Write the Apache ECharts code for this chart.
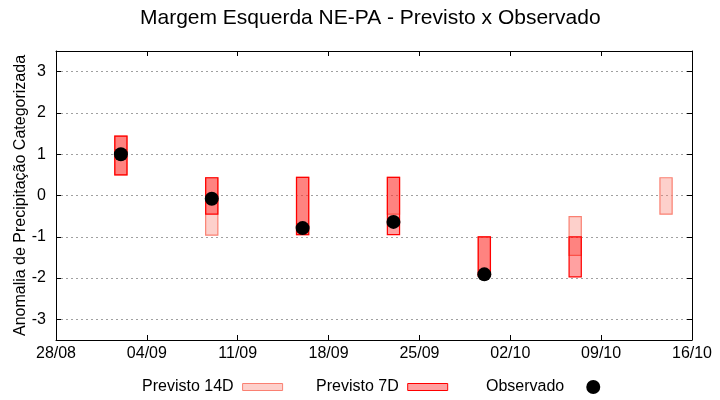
<!DOCTYPE html>
<html>
<head>
<meta charset="utf-8">
<script src="https://cdn.jsdelivr.net/npm/echarts@6/dist/echarts.min.js"></script>
<style>html,body{margin:0;padding:0;background:#fff}#c{width:720px;height:400px}</style>
</head>
<body>
<div id="c"></div>
<script>
// ---- data ----
const dates      = ['02/09', '09/09', '16/09', '23/09', '30/09', '07/10', '14/10'];
const prev14Low  = [0.50, -0.96, -0.95, -0.45, -1.95, -1.45, -0.45];
const prev14High = [1.44,  0.43,  0.44,  0.44, -1.00, -0.51,  0.43];
const prev7Low   = [0.50, -0.45, -0.95, -0.95, -1.95, -1.97, null];
const prev7High  = [1.44,  0.43,  0.44,  0.44, -1.00, -1.00, null];
const observed   = [1.00, -0.08, -0.79, -0.64, -1.91, null, null];
const tickLabels = ['28/08', '04/09', '11/09', '18/09', '25/09', '02/10', '09/10', '16/10'];
const yTicks     = [-3, -2, -1, 0, 1, 2, 3];

const START = tickLabels[0];
function dayOffset(s) {
  const [d, m] = s.split('/').map(Number);
  const [d0, m0] = START.split('/').map(Number);
  return (Date.UTC(2023, m - 1, d) - Date.UTC(2023, m0 - 1, d0)) / 864e5;
}
const xs = dates.map(dayOffset);
const xMax = dayOffset(tickLabels[tickLabels.length - 1]);

const rangeData = (lo, hi) => xs.map((x, i) => lo[i] == null ? null : [x, lo[i], hi[i]]).filter(Boolean);
const obsData = xs.map((x, i) => observed[i] == null ? null : [x, observed[i]]).filter(Boolean);

const FONT = 'Liberation Sans';
const HALF = 0.47;
function makeRender(fill, stroke) {
  return function (params, api) {
    const x = api.value(0), lo = api.value(1), hi = api.value(2);
    const p1 = api.coord([x - HALF, hi]);
    const p2 = api.coord([x + HALF, lo]);
    return {
      type: 'rect',
      shape: { x: p1[0], y: p1[1], width: p2[0] - p1[0], height: p2[1] - p1[1] },
      style: { fill: fill, stroke: stroke, lineWidth: 1.2 }
    };
  };
}
const C14_FILL = 'rgba(250,128,114,0.37)', C14_LINE = '#fa8072';
const C7_FILL = 'rgba(255,0,0,0.37)', C7_LINE = '#ff0000';

const yMin = yTicks[0] - 0.5, yMax = yTicks[yTicks.length - 1] + 0.5;

const legendText = { fontFamily: FONT, fontSize: 16, color: '#000' };

const chart = echarts.init(document.getElementById('c'), null, { renderer: 'canvas' });
chart.setOption({
  animation: false,
  backgroundColor: '#fff',
  textStyle: { fontFamily: FONT },
  title: {
    text: 'Margem Esquerda NE-PA - Previsto x Observado',
    left: 140, top: 8, padding: 0,
    textStyle: { fontFamily: FONT, fontSize: 21, fontWeight: 'normal', color: '#000' }
  },
  legend: [
    { left: 142, top: 379, padding: 0, align: 'right', itemWidth: 40, itemHeight: 7,
      textStyle: Object.assign({ padding: [0, 4, 0, 0] }, legendText),
      data: [{ name: 'Previsto 14D', icon: 'rect', itemStyle: { color: C14_FILL, borderColor: C14_LINE, borderWidth: 1 } }] },
    { left: 316, top: 379, padding: 0, align: 'right', itemWidth: 40, itemHeight: 7,
      textStyle: Object.assign({ padding: [0, 4, 0, 0] }, legendText),
      data: [{ name: 'Previsto 7D', icon: 'rect', itemStyle: { color: C7_FILL, borderColor: C7_LINE, borderWidth: 1 } }] },
    { left: 486, top: 379, padding: 0, align: 'right', itemWidth: 14, itemHeight: 14,
      textStyle: Object.assign({ padding: [0, 17, 0, 0] }, legendText),
      data: [{ name: 'Observado', icon: 'circle', itemStyle: { color: '#000' } }] }
  ],
  grid: { left: 56, right: 28, top: 51, bottom: 60, containLabel: false, outerBoundsMode: 'none' },
  xAxis: [
    { type: 'value', min: 0, max: xMax, interval: 7, position: 'bottom',
      axisLine: { onZero: false, lineStyle: { color: '#000', width: 1 } },
      axisTick: { inside: true, length: 5, lineStyle: { color: '#000' } },
      axisLabel: { fontFamily: FONT, fontSize: 16, color: '#000', margin: 6,
        formatter: v => tickLabels[Math.round(v / 7)] },
      splitLine: { show: false } },
    { type: 'value', min: 0, max: xMax, interval: 7, position: 'top',
      axisLine: { onZero: false, lineStyle: { color: '#000', width: 1 } },
      axisTick: { inside: true, length: 5, lineStyle: { color: '#000' } },
      axisLabel: { show: false }, splitLine: { show: false } }
  ],
  yAxis: [
    { type: 'value', min: yMin, max: yMax, splitNumber: 7, position: 'left',
      name: 'Anomalia de Precipitação Categorizada', nameLocation: 'middle', nameGap: 27,
      nameMoveOverlap: false,
      nameTextStyle: { fontFamily: FONT, fontSize: 16, color: '#000' },
      axisLine: { show: true, onZero: false, lineStyle: { color: '#000', width: 1 } },
      axisTick: { show: true, inside: true, length: 5, lineStyle: { color: '#000' } },
      axisLabel: { fontFamily: FONT, fontSize: 16, color: '#000', margin: 10,
        showMinLabel: false, showMaxLabel: false,
        formatter: v => (Number.isInteger(v) ? String(v) : '') },
      splitLine: { show: true, lineStyle: { color: '#a0a0a0', type: [2, 3], width: 1 } } },
    { type: 'value', min: yMin, max: yMax, splitNumber: 7, position: 'right',
      axisLine: { show: true, onZero: false, lineStyle: { color: '#000', width: 1 } },
      axisTick: { show: true, inside: true, length: 5, lineStyle: { color: '#000' } },
      axisLabel: { show: false }, splitLine: { show: false } }
  ],
  series: [
    { name: 'Previsto 14D', type: 'custom', xAxisIndex: 0, yAxisIndex: 0,
      renderItem: makeRender(C14_FILL, C14_LINE), encode: { x: 0, y: [1, 2] },
      data: rangeData(prev14Low, prev14High), z: 2 },
    { name: 'Previsto 7D', type: 'custom', xAxisIndex: 0, yAxisIndex: 0,
      renderItem: makeRender(C7_FILL, C7_LINE), encode: { x: 0, y: [1, 2] },
      data: rangeData(prev7Low, prev7High), z: 3 },
    { name: 'Observado', type: 'scatter', xAxisIndex: 0, yAxisIndex: 0,
      symbol: 'circle', symbolSize: 14, itemStyle: { color: '#000', opacity: 1 },
      data: obsData, z: 4 }
  ]
});
</script>
</body>
</html>
